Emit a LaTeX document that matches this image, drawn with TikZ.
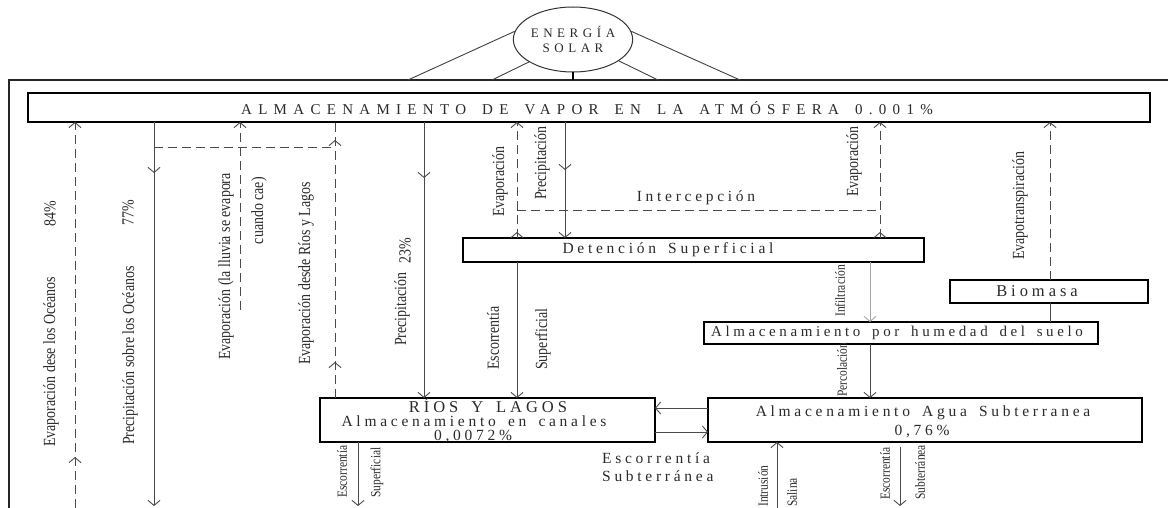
\documentclass[tikz,border=0pt]{standalone}
\usepackage{fontspec}
\setmainfont{Liberation Serif}
\newfontfamily\widefont[LetterSpace=24,WordSpace=1.6]{Liberation Serif}
\newfontfamily\vwidefont[LetterSpace=42,WordSpace=1.6]{Liberation Serif}
\newfontfamily\sunfont[LetterSpace=35]{Liberation Serif}
\newfontfamily\narrowfont[FakeStretch=0.82]{Liberation Serif}
\usetikzlibrary{arrows.meta,decorations.markings,shapes.geometric}
\definecolor{lineC}{HTML}{4A4A4A}
\definecolor{txtC}{HTML}{2A2A2A}
\begin{document}
\begin{tikzpicture}[x=1pt,y=-1pt,
  >={Straight Barb[length=5pt,width=12pt]},
  box/.style={draw=black, line width=1.5pt, inner sep=0pt, outer sep=0pt, fill=white},
  conn/.style={draw=lineC, line width=0.9pt},
  dsh/.style={conn, dash pattern=on 9pt off 5pt},
  marr/.style={postaction={decorate,decoration={markings,mark=at position #1 with {\arrow{>}}}}},
  vlab/.style={rotate=90, inner sep=0pt, text=txtC, font=\narrowfont\fontsize{17}{19}\selectfont},
  vlabs/.style={rotate=90, inner sep=0pt, text=txtC, font=\narrowfont\fontsize{14}{16}\selectfont},
  hlab/.style={inner sep=0pt, text=txtC, font=\widefont\fontsize{15.5}{17}\selectfont},
]
\useasboundingbox (0,0) rectangle (1168,508);
% frame
\coordinate (fTL) at (9,80);
\coordinate (fTR) at (1168,80);
\coordinate (fBL) at (9,508);
\draw[line width=1.2pt, draw=black!85] (fBL) -- (fTL) -- (fTR);
% sun
\node[ellipse, draw=black!80, line width=1pt, minimum width=110pt, minimum height=65pt, inner sep=0pt, align=center, font=\sunfont\fontsize{13}{15}\selectfont, text=txtC] (sun) at (573,39.5) {ENERGÍA\\SOLAR};
\coordinate (s1) at (408,80);
\coordinate (s2) at (492,80);
\coordinate (s3) at (573,80);
\coordinate (s4) at (658,80);
\coordinate (s5) at (740,80);
\draw[conn, draw=black!75] (sun.172) -- (s1);
\draw[conn, draw=black!75] (sun.207) -- (s2);
\draw[conn, draw=black!75] (sun.335) -- (s4);
\draw[conn, draw=black!75] (sun.8) -- (s5);
\draw[line width=2pt] (sun.south) -- (s3);
% boxes
\node[box, minimum width=1122pt, minimum height=29pt] (atm) at (589,107.5) {};
\node[hlab, font=\vwidefont\fontsize{15}{17}\selectfont] (atmT) at (587,108) {ALMACENAMIENTO DE VAPOR EN LA ATMÓSFERA\hspace{16pt}0.001\%};
\node[box, minimum width=461pt, minimum height=24pt] (det) at (693.5,250) {};
\node[hlab] (detT) at (668,250) {Detención Superficial};
\node[box, minimum width=198pt, minimum height=23pt] (bio) at (1049,291.5) {};
\node[hlab, font=\widefont\fontsize{16.5}{18}\selectfont] (bioT) at (1037,291.5) {Biomasa};
\node[box, minimum width=394pt, minimum height=22pt] (hum) at (901,333) {};
\node[hlab, font=\widefont\fontsize{15}{17}\selectfont] (humT) at (897,333) {Almacenamiento por humedad del suelo};
\node[box, minimum width=434pt, minimum height=44pt] (agua) at (925,420) {};
\node[hlab] (aguaT1) at (923,413) {Almacenamiento Agua Subterranea};
\node[hlab] (aguaT2) at (922,432) {0,76\%};
\node[box, minimum width=335pt, minimum height=44pt] (rios) at (487.5,420) {};
\node[hlab, anchor=base, text height=11pt, text depth=0pt, font=\widefont\fontsize{16.5}{18}\selectfont] (riosT1) at (488,412) {RÍOS Y LAGOS};
\node[hlab, anchor=base, text height=9pt, text depth=0pt] (riosT2) at (474,426) {Almacenamiento en canales};
\node[hlab, anchor=base, text height=10pt, text depth=0pt] (riosT3) at (473,440.5) {0,0072\%};
\node[hlab] (intT) at (696,198) {Intercepción};
\node[hlab, anchor=west, align=left, font=\widefont\fontsize{15.5}{17.5}\selectfont] (esT) at (602,467) {Escorrentía\\Subterránea};
% columns and free ends
\coordinate (xA) at (75,0);
\coordinate (xB) at (154,0);
\coordinate (xE) at (240,0);
\coordinate (xD) at (335,0);
\coordinate (xR) at (358,0);
\coordinate (xF) at (424,0);
\coordinate (xG) at (517,0);
\coordinate (xH) at (565,0);
\coordinate (xS) at (777,0);
\coordinate (xL) at (870,0);
\coordinate (xJ) at (880,0);
\coordinate (xN) at (1050,0);
\coordinate (yC) at (0,147);
\coordinate (yI) at (0,210);
\coordinate (yP) at (0,408);
\coordinate (yQ) at (0,432);
\coordinate (aBot) at (75,508);
\coordinate (bBot) at (154,506);
\coordinate (eBot) at (240,310);
\coordinate (rBot) at (358,506);
\coordinate (sBot) at (777,508);
\coordinate (tTop) at (900,447);
\coordinate (tBot) at (900,506);
% connectors
\draw[dsh,->,marr=51pt] (aBot) -- (atm.south -| xA);
\draw[conn,->,marr=51pt] (atm.south -| xB) -- (bBot);
\draw[dsh] (xB |- yC) -- (xD |- yC);
\draw[dsh,marr=36pt,marr=258pt] (rios.north -| xD) -- (atm.south -| xD);
\draw[dsh,->] (eBot) -- (atm.south -| xE);
\draw[conn,->,marr=56pt] (atm.south -| xF) -- (rios.north -| xF);
\draw[dsh,->,marr=6pt] (det.north -| xG) -- (atm.south -| xG);
\draw[conn,->,marr=48pt] (atm.south -| xH) -- (det.north -| xH);
\draw[dsh] (xG |- yI) -- (xJ |- yI);
\draw[dsh,->,marr=6pt] (det.north -| xJ) -- (atm.south -| xJ);
\draw[conn,->] (det.south -| xG) -- (rios.north -| xG);
\draw[conn,draw=gray!70,->] (det.south -| xL) -- (hum.north -| xL);
\draw[conn] (bio.south -| xN) -- (hum.north -| xN);
\draw[dsh,->] (bio.north -| xN) -- (atm.south -| xN);
\draw[conn,->] (hum.south -| xL) -- (agua.north -| xL);
\draw[conn,->] (agua.west |- yP) -- (rios.east |- yP);
\draw[conn,->] (rios.east |- yQ) -- (agua.west |- yQ);
\draw[conn,->] (rios.south -| xR) -- (rBot);
\draw[conn,->] (sBot) -- (agua.south -| xS);
\draw[conn,->] (tTop) -- (tBot);
% vertical labels
\node[vlab, anchor=west] (lA) at (51,447) {Evaporación dese los Océanos};
\node[vlab] (lA2) at (50,214) {84\%};
\node[vlab, anchor=west] (lB) at (130,445) {Precipitación sobre los Océanos};
\node[vlab] (lB2) at (128,213) {77\%};
\node[vlab, anchor=east] (lE1) at (226,173) {Evaporación (la lluvia se evapora};
\node[vlab, anchor=east] (lE2) at (259,177) {cuando cae)};
\node[vlab, anchor=west] (lD) at (306,365) {Evaporación desde Ríos y Lagos};
\node[vlab, anchor=west] (lF) at (402,346) {Precipitación};
\node[vlab, anchor=east] (lF2) at (405,238) {23\%};
\node[vlab, anchor=west] (lG) at (500,217) {Evaporación};
\node[vlab, anchor=west] (lH) at (542,200) {Precipitación};
\node[vlab, anchor=west] (lJ) at (854,197) {Evaporación};
\node[vlab, anchor=west] (lN) at (1020,260) {Evapotranspiración};
\node[vlab, anchor=west] (lK1) at (493,370) {Escorrentía};
\node[vlab, anchor=west] (lK2) at (543,370) {Superficial};
\node[vlabs, anchor=west] (lL) at (840,317) {Infiltración};
\node[vlabs, anchor=west] (lO) at (842,397) {Percolación};
\node[vlabs, anchor=west] (lR1) at (342,498) {Escorrentía};
\node[vlabs, anchor=west] (lR2) at (377,498) {Superficial};
\node[vlabs, anchor=west] (lS1) at (763,507) {Intrusión};
\node[vlabs, anchor=west] (lS2) at (792,507) {Salina};
\node[vlabs, anchor=west] (lT1) at (885,500) {Escorrentía};
\node[vlabs, anchor=west] (lT2) at (920,500) {Subterránea};
\end{tikzpicture}
\end{document}
